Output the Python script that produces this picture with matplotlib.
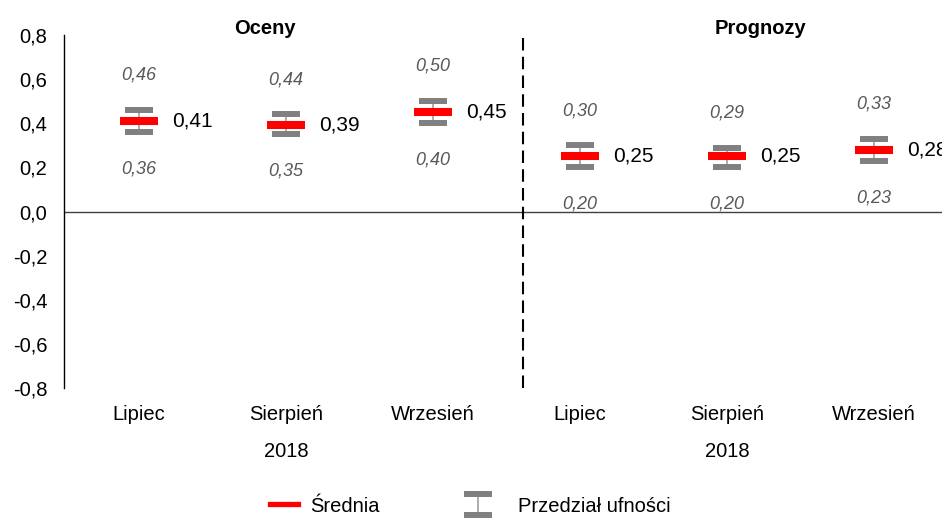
import matplotlib
matplotlib.use("Agg")
import matplotlib.pyplot as plt
from matplotlib.lines import Line2D
from matplotlib.legend_handler import HandlerErrorbar

plt.rcParams['font.family'] = ['Liberation Sans', 'DejaVu Sans']

# dane
miesiace = ["Lipiec", "Sierpień", "Wrzesień", "Lipiec", "Sierpień", "Wrzesień"]
srednia = [0.41, 0.39, 0.45, 0.25, 0.25, 0.28]
dolna = [0.36, 0.35, 0.40, 0.20, 0.20, 0.23]
gorna = [0.46, 0.44, 0.50, 0.30, 0.29, 0.33]
grupy = ["Oceny", "Prognozy"]
rok = "2018"
yticks = [-0.8, -0.6, -0.4, -0.2, 0.0, 0.2, 0.4, 0.6, 0.8]

x = list(range(len(miesiace)))

def fmt(v):
    return f"{v:.2f}".replace(".", ",")

fig = plt.figure(figsize=(9.42, 5.18), dpi=100)
ax = fig.add_axes([64/942, 1 - 388/518, 878/942, (388 - 35)/518])

# przedzial ufnosci
yerr = [[m - d for m, d in zip(srednia, dolna)], [g - m for m, g in zip(srednia, gorna)]]
eb = ax.errorbar(x, srednia, yerr=yerr, fmt='none', ecolor="#808080",
                 elinewidth=1.3, capsize=9.8, capthick=4.3, zorder=3)
eb[2][0].set_color("#a6a6a6")

# srednia
ax.plot(x, srednia, linestyle='none', marker='_', markersize=27.5,
        markeredgewidth=5.8, color="#ff0000", zorder=4)

for xi, m, d, g in zip(x, srednia, dolna, gorna):
    ax.annotate(fmt(m), (xi, m), xytext=(24, 0), textcoords='offset points',
                ha='left', va='center', fontsize=15, color="black")
    ax.annotate(fmt(g), (xi, g), xytext=(0, 25), textcoords='offset points',
                ha='center', va='center', fontsize=13, style='italic', color="#595959")
    ax.annotate(fmt(d), (xi, d), xytext=(0, -26.5), textcoords='offset points',
                ha='center', va='center', fontsize=13, style='italic', color="#595959")

ax.axhline(0, color="#404040", linewidth=1.0, zorder=1)
ax.axvline(2.615, color="black", linewidth=1.5, linestyle=(0, (6, 3)), zorder=1)

ax.set_xlim(-0.51, 5.463)
ax.set_ylim(-0.8, 0.8)
ax.set_yticks(yticks)
ax.set_yticklabels([f"{v:.1f}".replace(".", ",") for v in yticks], fontsize=14.5)
ax.set_xticks(x)
ax.set_xticklabels(miesiace, fontsize=14.5)
ax.tick_params(axis='both', length=0)
ax.tick_params(axis='y', pad=12)
ax.tick_params(axis='x', pad=12)

for s in ["top", "right", "bottom"]:
    ax.spines[s].set_visible(False)
ax.spines["left"].set_color("black")
ax.spines["left"].set_linewidth(1.0)

for xc in [1, 4]:
    ax.annotate(rok, (xc, -0.8), xytext=(0, -46), textcoords='offset points',
                ha='center', va='center', fontsize=14.5)

ax.text(0.854, 0.83, grupy[0], ha='center', va='center', fontsize=14.5, fontweight='bold')
ax.text(4.23, 0.83, grupy[1], ha='center', va='center', fontsize=14.5, fontweight='bold')

# legenda
red = Line2D([], [], color="#ff0000", linewidth=3.8)
fig.legend(handles=[red], labels=["Średnia"], loc='center left',
           bbox_to_anchor=(270/942, 1 - 506/518), frameon=False, fontsize=14.5,
           borderpad=0, borderaxespad=0, handlelength=1.39, handletextpad=0.6)
fig.legend(handles=[eb], labels=["Przedział ufności"], loc='center left',
           bbox_to_anchor=(464/942, 1 - 506/518), frameon=False, fontsize=14.5,
           borderpad=0, borderaxespad=0, handlelength=1.39, handletextpad=1.29,
           handler_map={type(eb): HandlerErrorbar(yerr_size=0.5)})

fig.savefig("out.png", dpi=100)
